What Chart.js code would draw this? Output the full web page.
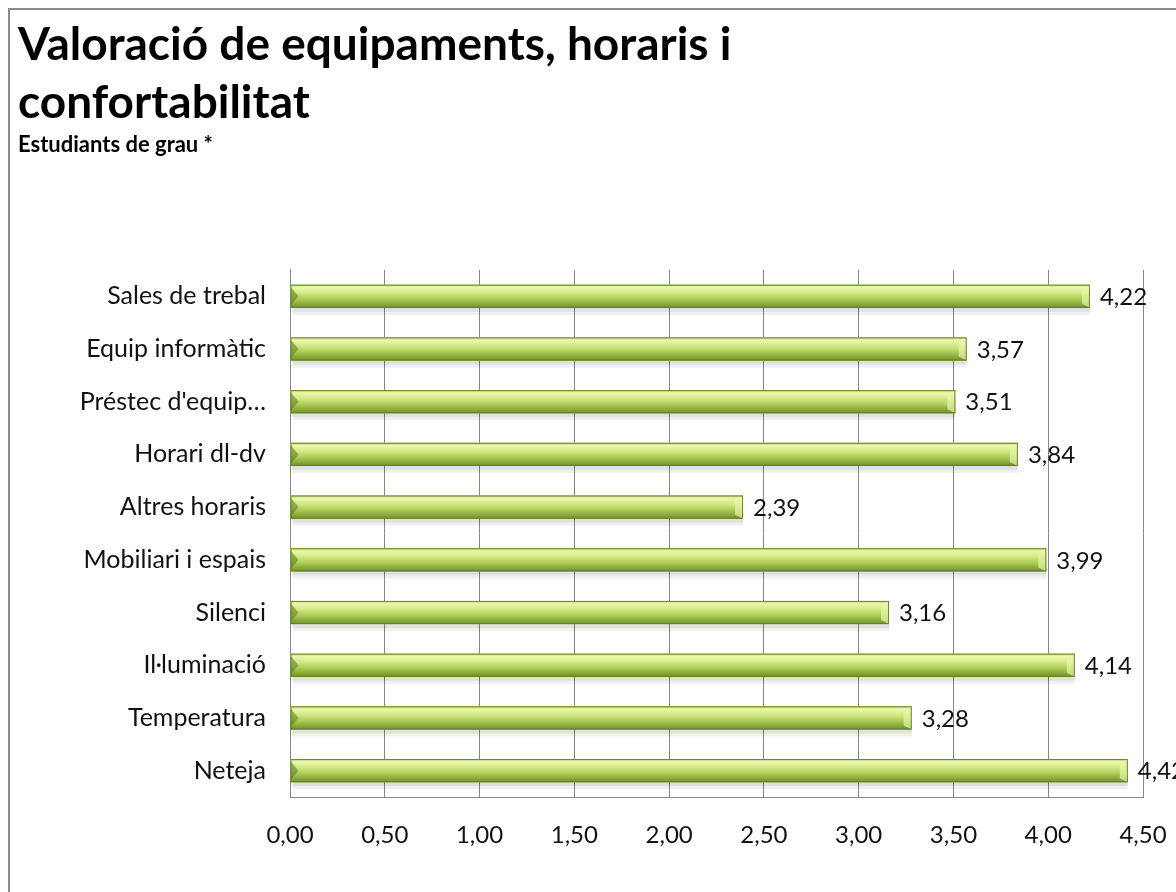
<!DOCTYPE html>
<html>
<head>
<meta charset="utf-8">
<script src="https://cdn.jsdelivr.net/npm/chart.js@4/dist/chart.umd.min.js"></script>
<style>
  html, body { margin: 0; padding: 0; background: #fff; overflow: hidden; }
  #wrap { position: relative; width: 1176px; height: 892px; }
  #frame { position: absolute; left: 8px; top: 8px; width: 1300px; height: 1000px;
           border-left: 2px solid #8c8c8c; border-top: 2px solid #8c8c8c; }
  canvas { position: absolute; left: 0; top: 0; }
</style>
</head>
<body>
<div id="wrap">
  <div id="frame"></div>
  <canvas id="valChart" width="1176" height="892"></canvas>
</div>
<script>
// Data
const categories = ['Sales de trebal', 'Equip informàtic', "Préstec d'equip…", 'Horari dl-dv',
  'Altres horaris', 'Mobiliari i espais', 'Silenci', 'Il·luminació', 'Temperatura', 'Neteja'];
const values = [4.22, 3.57, 3.51, 3.84, 2.39, 3.99, 3.16, 4.14, 3.28, 4.42];
const xMin = 0;
const xMax = 4.5;
const xStep = 0.5;

const FONT = 'Lato, "Open Sans", sans-serif';
const GRID = '#868686';

function fmt(v) {
  return v.toFixed(2).replace('.', ',');
}

// Paints the glossy green look over each bar the library drew
const glossyBars = {
  id: 'glossyBars',
  afterDatasetsDraw(chart) {
    const ctx = chart.ctx;
    const meta = chart.getDatasetMeta(0);
    meta.data.forEach((bar) => {
      const p = bar.getProps(['x', 'y', 'base', 'height'], true);
      const left = p.base, right = p.x;
      const top = p.y - p.height / 2, bottom = p.y + p.height / 2;
      const w = right - left, h = bottom - top;

      // shadow
      ctx.save();
      ctx.fillStyle = 'rgba(0,0,0,0.12)';
      ctx.fillRect(left + 2, bottom, w - 2, 4);
      ctx.fillStyle = 'rgba(0,0,0,0.06)';
      ctx.fillRect(left + 2, bottom + 4, w - 2, 3);

      const g = ctx.createLinearGradient(0, top, 0, bottom);
      g.addColorStop(0, '#bcd66c');
      g.addColorStop(0.12, '#ecf8ae');
      g.addColorStop(0.35, '#d4ea88');
      g.addColorStop(0.6, '#b0cf5a');
      g.addColorStop(0.85, '#88a73c');
      g.addColorStop(1, '#71902e');
      ctx.fillStyle = g;
      ctx.fillRect(left, top, w, h);

      // left bevel
      ctx.fillStyle = 'rgba(90,120,30,0.55)';
      ctx.beginPath();
      ctx.moveTo(left, top + 2);
      ctx.lineTo(left + 8, top + h / 2);
      ctx.lineTo(left, bottom - 2);
      ctx.closePath();
      ctx.fill();

      // right bevel
      ctx.fillStyle = 'rgba(230,245,170,0.7)';
      ctx.beginPath();
      ctx.moveTo(right, top);
      ctx.lineTo(right - 8, top + 4);
      ctx.lineTo(right - 8, bottom - 4);
      ctx.lineTo(right, bottom);
      ctx.closePath();
      ctx.fill();
      ctx.strokeStyle = 'rgba(95,125,35,0.9)';
      ctx.lineWidth = 1;
      ctx.strokeRect(left + 0.5, top + 0.5, w - 1, h - 1);
      ctx.restore();
    });
  }
};

// Value labels at the end of each bar
const valueLabels = {
  id: 'valueLabels',
  afterDraw(chart) {
    const ctx = chart.ctx;
    const meta = chart.getDatasetMeta(0);
    ctx.save();
    ctx.font = '24px ' + FONT;
    ctx.fillStyle = '#111';
    ctx.textAlign = 'left';
    ctx.textBaseline = 'middle';
    meta.data.forEach((bar, i) => {
      ctx.fillText(fmt(values[i]), bar.x + 10, bar.y + 1);
    });
    ctx.restore();
  }
};

new Chart(document.getElementById('valChart'), {
  type: 'bar',
  data: {
    labels: categories,
    datasets: [{
      data: values,
      backgroundColor: '#a9c954',
      borderWidth: 0,
      barPercentage: 0.44,
      categoryPercentage: 1
    }]
  },
  options: {
    indexAxis: 'y',
    responsive: false,
    animation: false,
    layout: { padding: { left: 18, right: 33, top: 0, bottom: 0 } },
    plugins: {
      legend: { display: false },
      tooltip: { enabled: false },
      title: {
        display: true,
        align: 'start',
        text: ['Valoració de equipaments, horaris i', 'confortabilitat'],
        color: '#000',
        font: { family: FONT, size: 46, weight: 'bold', lineHeight: 1.26 },
        padding: { top: 16, bottom: 0 }
      },
      subtitle: {
        display: true,
        align: 'start',
        text: 'Estudiants de grau *',
        color: '#000',
        font: { family: FONT, size: 22, weight: 'bold', lineHeight: 1.2 },
        padding: { top: 0, bottom: 111.6 }
      }
    },
    scales: {
      x: {
        min: xMin,
        max: xMax,
        afterFit(scale) {
          scale.height = 95;
          scale.paddingLeft = 0;
          scale.paddingRight = 0;
        },
        ticks: {
          stepSize: xStep,
          color: '#111',
          font: { family: FONT, size: 24 },
          padding: 24,
          callback: (v) => fmt(v)
        },
        grid: { color: GRID, drawTicks: false },
        border: { display: true, color: GRID }
      },
      y: {
        afterFit(scale) { scale.width = 272; },
        ticks: {
          color: '#111',
          font: { family: FONT, size: 25 },
          padding: 24
        },
        grid: { display: false, drawTicks: false },
        border: { display: true, color: GRID }
      }
    }
  },
  plugins: [glossyBars, valueLabels]
});
</script>
</body>
</html>
